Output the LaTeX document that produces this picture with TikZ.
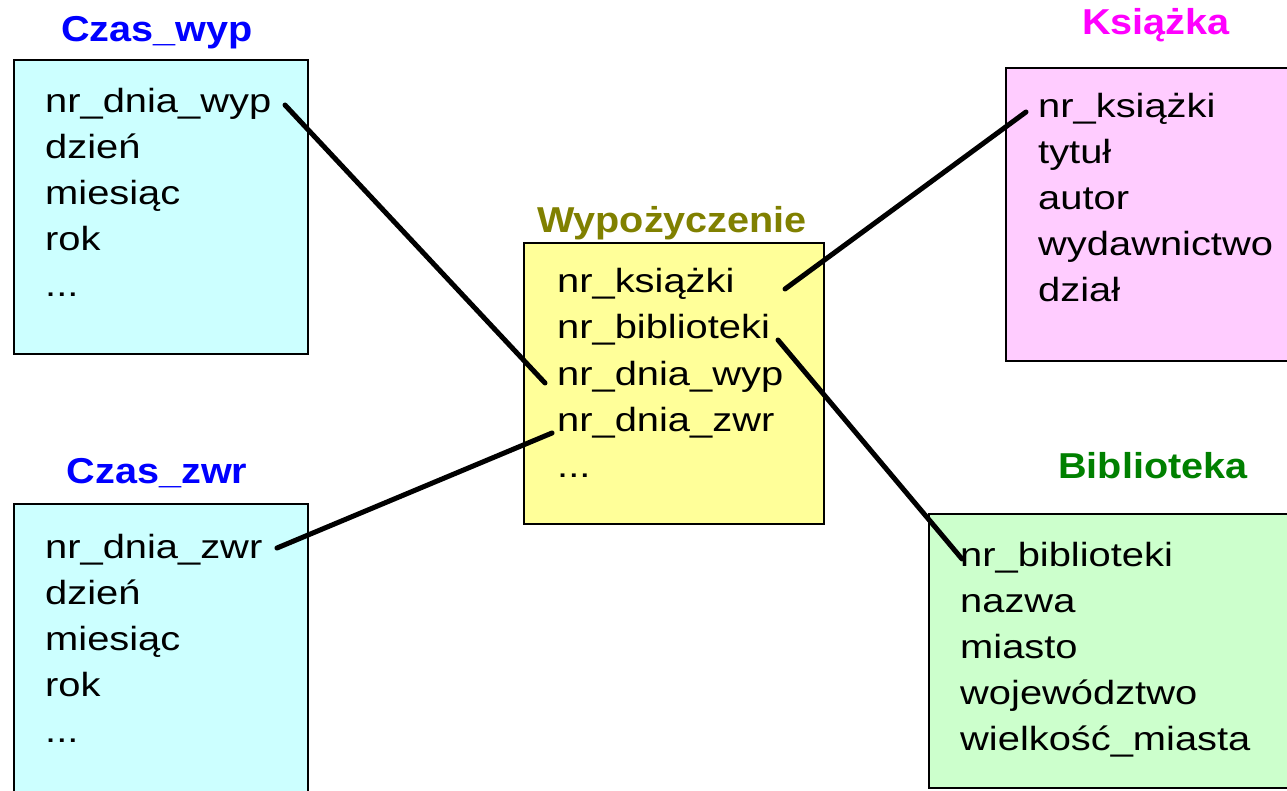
\documentclass[tikz,border=0pt]{standalone}
\usepackage{fontspec}
\setmainfont{Liberation Sans}
\newfontfamily\fieldfont{Liberation Sans}[FakeStretch=1.19]
\newfontfamily\headfont{Liberation Sans}[FakeStretch=1.1]

\definecolor{fillcyan}{HTML}{CCFFFF}
\definecolor{fillyellow}{HTML}{FFFF99}
\definecolor{fillpink}{HTML}{FFCCFF}
\definecolor{fillgreen}{HTML}{CCFFCC}
\definecolor{headblue}{HTML}{0000FF}
\definecolor{headolive}{HTML}{808000}
\definecolor{headmagenta}{HTML}{FF00FF}
\definecolor{headgreen}{HTML}{008000}

\tikzset{
  entity/.style={draw=black, line width=2pt, anchor=north west, inner sep=0pt},
  field/.style={anchor=base west, inner sep=0pt, font=\fieldfont\fontsize{33.5}{40}\selectfont},
  head/.style={anchor=base, inner sep=0pt, font=\headfont\bfseries\fontsize{36}{40}\selectfont},
  link/.style={line width=5pt, line cap=round}
}

\begin{document}
\begin{tikzpicture}[x=1pt,y=-1pt]
\useasboundingbox (0,0) rectangle (1287,791);
\clip (0,0) rectangle (1287,791);

% entity boxes
\node[entity, fill=fillcyan,   minimum width=294pt, minimum height=294pt] (czaswyp) at (13,59) {};
\node[entity, fill=fillcyan,   minimum width=294pt, minimum height=320pt] (czaszwr) at (13,503) {};
\node[entity, fill=fillyellow, minimum width=300pt, minimum height=281pt] (wyp)     at (523,242) {};
\node[entity, fill=fillpink,   minimum width=300pt, minimum height=293pt] (ksiazka) at (1005,67) {};
\node[entity, fill=fillgreen,  minimum width=380pt, minimum height=274pt] (bib)     at (928,513) {};

% entity titles
\node[head, text=headblue]    (t-czaswyp) at (157,42)  {Czas\_wyp};
\node[head, text=headblue]    (t-czaszwr) at (157,483) {Czas\_zwr};
\node[head, text=headolive]   (t-wyp)     at (672,233) {Wypożyczenie};
\node[head, text=headmagenta] (t-ksiazka) at (1156,35) {Książka};
\node[head, text=headgreen]   (t-bib)     at (1153,478) {Biblioteka};

% Czas_wyp attributes
\node[field] (cw-1) at (45,113) {nr\_dnia\_wyp};
\node[field] (cw-2) at (45,159) {dzień};
\node[field] (cw-3) at (45,205) {miesiąc};
\node[field] (cw-4) at (45,251) {rok};
\node[field] (cw-5) at (45,297) {...};

% Czas_zwr attributes
\node[field] (cz-1) at (45,558) {nr\_dnia\_zwr};
\node[field] (cz-2) at (45,604) {dzień};
\node[field] (cz-3) at (45,650) {miesiąc};
\node[field] (cz-4) at (45,696) {rok};
\node[field] (cz-5) at (45,742) {...};

% Wypożyczenie attributes
\node[field] (w-1) at (557,293) {nr\_książki};
\node[field] (w-2) at (557,339) {nr\_biblioteki};
\node[field] (w-3) at (557,385) {nr\_dnia\_wyp};
\node[field] (w-4) at (557,431) {nr\_dnia\_zwr};
\node[field] (w-5) at (557,477) {...};

% Książka attributes
\node[field] (k-1) at (1038,118) {nr\_książki};
\node[field] (k-2) at (1038,164) {tytuł};
\node[field] (k-3) at (1038,210) {autor};
\node[field] (k-4) at (1038,256) {wydawnictwo};
\node[field] (k-5) at (1038,302) {dział};

% Biblioteka attributes
\node[field] (b-1) at (960,566) {nr\_biblioteki};
\node[field] (b-2) at (960,612) {nazwa};
\node[field] (b-3) at (960,658) {miasto};
\node[field] (b-4) at (960,704) {województwo};
\node[field] (b-5) at (960,750) {wielkość\_miasta};

% key ends
\coordinate (cw-key) at (285,105);
\coordinate (w-wyp)  at (545,383);
\coordinate (w-ks)   at (785,289);
\coordinate (k-key)  at (1026,112);
\coordinate (w-bib)  at (778,340);
\coordinate (b-key)  at (962,559);
\coordinate (cz-key) at (277,548);
\coordinate (w-zwr)  at (552,433);

% relationships
\draw[link] (cw-key) -- (w-wyp);
\draw[link] (w-ks) -- (k-key);
\draw[link] (w-bib) -- (b-key);
\draw[link] (cz-key) -- (w-zwr);
\end{tikzpicture}
\end{document}
